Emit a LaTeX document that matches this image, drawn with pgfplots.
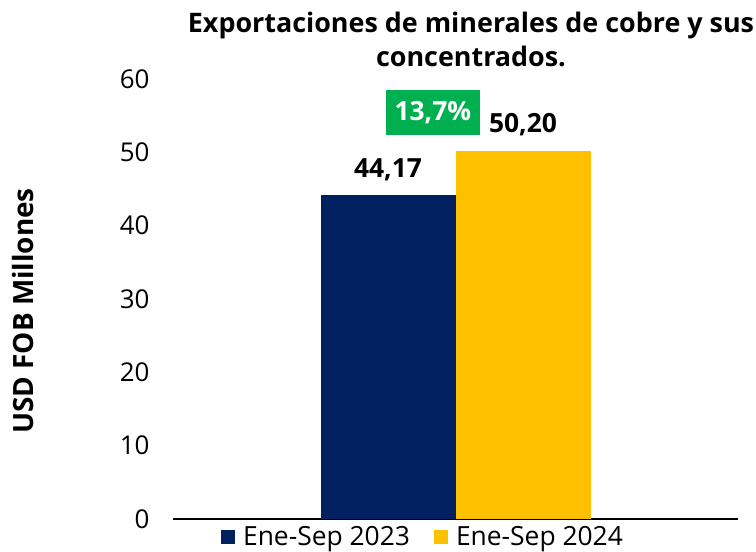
\documentclass[border=0pt]{standalone}
\usepackage{pgfplots}
\pgfplotsset{compat=1.18}
\usepackage{fontspec}
\setmainfont{Open Sans}
\definecolor{navy}{HTML}{002060}
\definecolor{gold}{HTML}{FFC000}
\definecolor{grn}{HTML}{00B050}
\begin{document}
\begin{tikzpicture}
\begin{axis}[
 at={(0,0)}, anchor=south west,
 scale only axis, width=565bp, height=440bp,
 xmin=-1, xmax=1, ymin=0, ymax=60,
 ytick={0,10,...,60}, xtick=\empty,
 axis x line*=bottom, axis y line*=left,
 y axis line style={draw=none},
 x axis line style={line width=1.3bp, -},
 ytick style={draw=none},
 /pgf/number format/assume math mode=true,
 yticklabel style={font=\fontsize{26}{30}\selectfont, xshift=-20bp},
 ybar=0pt, bar width=135bp,
 nodes near coords={\pgfmathprintnumber[fixed,fixed zerofill,precision=2,use comma,assume math mode=true]{\pgfplotspointmeta}},
 every node near coord/.append style={font=\fontsize{26.5}{30}\selectfont\bfseries, black, yshift=11bp},
 legend style={at={(0.4425,-0.041)}, anchor=center, draw=none, fill=none, font=\fontsize{26.5}{30}\selectfont, legend columns=2,
   /tikz/every odd column/.append style={column sep=6bp},
   /tikz/every even column/.append style={column sep=22bp}},
 clip=false,
]
\addplot[fill=navy, draw=none, legend image code/.code={\fill[navy] (0bp,-7bp) rectangle (14bp,7bp);}] coordinates {(0,44.17)};
\addplot[fill=gold, draw=none, legend image code/.code={\fill[gold] (0bp,-7bp) rectangle (14bp,7bp);}] coordinates {(0,50.20)};
\legend{Ene-Sep 2023, Ene-Sep 2024}
\node[fill=grn, text=white, font=\fontsize{26.5}{30}\selectfont\bfseries, minimum width=94bp, minimum height=45bp, inner sep=0pt] at (axis cs:-0.08,55.4) {13,7\%};
\end{axis}
\node[font=\fontsize{27}{35}\selectfont\bfseries, align=center] at (298bp,479.5bp) {Exportaciones de minerales de cobre y sus\\concentrados.};
\node[rotate=90, font=\fontsize{28}{32}\selectfont\bfseries] at (-150bp,208bp) {USD FOB Millones};
\pgfresetboundingbox
\path (-173bp,-33bp) rectangle (583bp,519bp);
\end{tikzpicture}
\end{document}
